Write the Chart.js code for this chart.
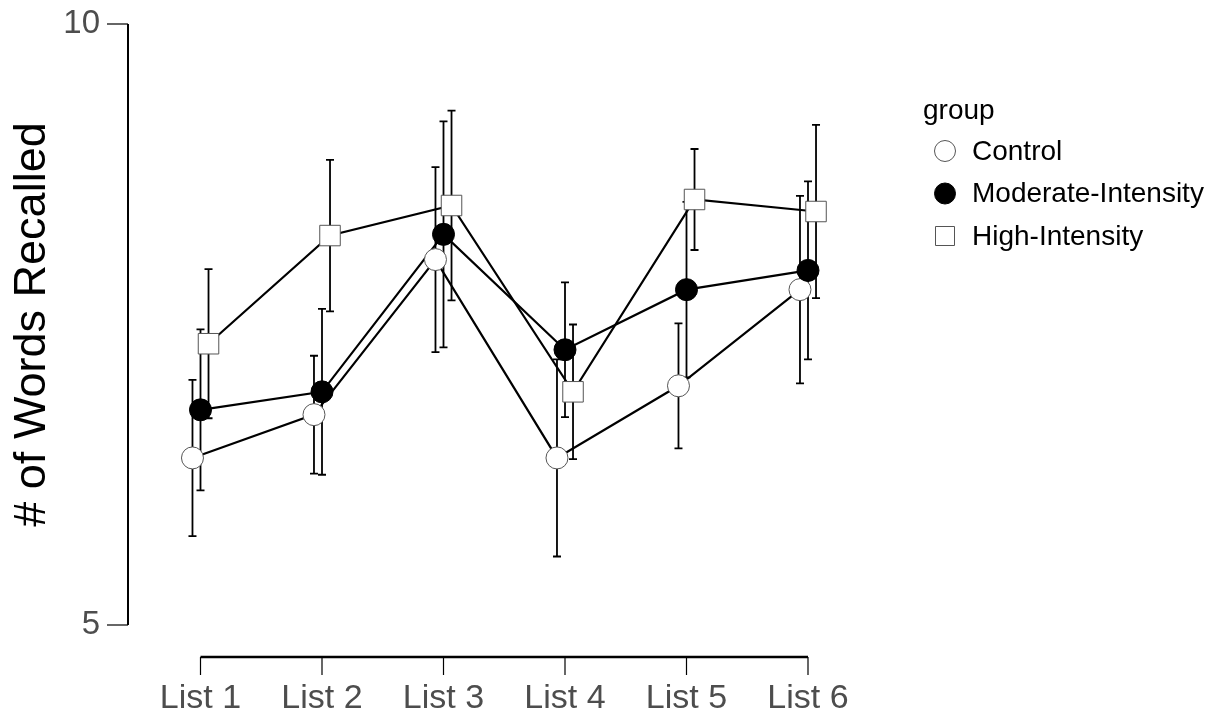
<!DOCTYPE html>
<html>
<head>
<meta charset="utf-8">
<script src="https://cdn.jsdelivr.net/npm/chart.js@4.4.0/dist/chart.umd.min.js"></script>
<style>
  html, body { margin: 0; padding: 0; background: #fff; }
  #wrap { width: 1232px; height: 723px; position: relative; }
</style>
</head>
<body>
<div id="wrap"><canvas id="grafico"></canvas></div>
<script>
const categories = ['List 1', 'List 2', 'List 3', 'List 4', 'List 5', 'List 6']
const groups = ['Control', 'Moderate-Intensity', 'High-Intensity']
const yTicks = [5, 10]

// means and half-width of error bars
const controlMean = [6.39, 6.75, 8.04, 6.39, 6.99, 7.79]
const controlErr = [0.65, 0.49, 0.77, 0.82, 0.52, 0.78]
const moderateMean = [6.79, 6.94, 8.25, 7.29, 7.79, 7.95]
const moderateErr = [0.67, 0.69, 0.94, 0.56, 0.73, 0.74]
const highMean = [7.34, 8.24, 8.49, 6.94, 8.54, 8.44]
const highErr = [0.62, 0.63, 0.79, 0.56, 0.42, 0.72]

document.addEventListener('DOMContentLoaded', function() {
    const family = '"Liberation Sans", Arial, sans-serif'
    Chart.defaults.font.family = family

    const means = [controlMean, moderateMean, highMean]
    const errs = [controlErr, moderateErr, highErr]
    const styles = [
        { pointStyle: 'circle', radius: 11, fill: '#ffffff', border: '#555555' },
        { pointStyle: 'circle', radius: 11, fill: '#000000', border: '#000000' },
        { pointStyle: 'rect', radius: 14.5, fill: '#ffffff', border: '#555555' }
    ]
    const dodge = [-0.066, 0, 0.066]

    const datasets = []
    means.forEach(function(serie, g) {
        const pts = serie.map((v, i) => ({ x: i + 1 + dodge[g], y: v }))
        // lines first (under every marker), like ggplot
        datasets.push({
            label: groups[g] + ' line',
            data: pts,
            borderColor: '#000000',
            borderWidth: 2.2,
            pointRadius: 0,
            fill: false,
            tension: 0,
            order: 10
        })
        datasets.push({
            label: groups[g],
            data: pts,
            showLine: false,
            pointStyle: styles[g].pointStyle,
            pointRadius: styles[g].radius,
            pointBackgroundColor: styles[g].fill,
            pointBorderColor: styles[g].border,
            pointBorderWidth: 1,
            errors: errs[g],
            order: 3 - g
        })
    })

    const errorBars = {
        id: 'errorBars',
        beforeDatasetsDraw(chart) {
            const ctx = chart.ctx
            const y = chart.scales.y
            ctx.save()
            ctx.strokeStyle = '#000000'
            ctx.lineWidth = 1.8
            chart.data.datasets.forEach(function(ds, d) {
                if (!ds.errors) return
                chart.getDatasetMeta(d).data.forEach(function(pt, i) {
                    const v = ds.data[i].y
                    const e = ds.errors[i]
                    const top = y.getPixelForValue(v + e)
                    const bot = y.getPixelForValue(v - e)
                    ctx.beginPath()
                    ctx.moveTo(pt.x, top); ctx.lineTo(pt.x, bot)
                    ctx.moveTo(pt.x - 4, top); ctx.lineTo(pt.x + 4, top)
                    ctx.moveTo(pt.x - 4, bot); ctx.lineTo(pt.x + 4, bot)
                    ctx.stroke()
                })
            })
            ctx.restore()
        }
    }

    // range-frame axes
    const axes = {
        id: 'axes',
        beforeDatasetsDraw(chart) {
            const { ctx, chartArea, scales } = chart
            const x = scales.x, y = scales.y
            ctx.save()
            ctx.strokeStyle = '#000000'
            ctx.lineWidth = 2
            ctx.beginPath()
            ctx.moveTo(chartArea.left, y.getPixelForValue(yTicks[yTicks.length - 1]))
            ctx.lineTo(chartArea.left, y.getPixelForValue(yTicks[0]))
            ctx.stroke()
            ctx.lineWidth = 1.2
            yTicks.forEach(function(t) {
                const py = y.getPixelForValue(t)
                ctx.beginPath(); ctx.moveTo(chartArea.left - 21, py); ctx.lineTo(chartArea.left, py); ctx.stroke()
            })
            const yAxis = chartArea.bottom + 32
            ctx.lineWidth = 2.4
            ctx.beginPath()
            ctx.moveTo(x.getPixelForValue(1), yAxis)
            ctx.lineTo(x.getPixelForValue(categories.length), yAxis)
            ctx.stroke()
            ctx.lineWidth = 1.2
            categories.forEach(function(c, i) {
                const px = x.getPixelForValue(i + 1)
                ctx.beginPath(); ctx.moveTo(px, yAxis); ctx.lineTo(px, yAxis + 18); ctx.stroke()
            })
            ctx.restore()
        }
    }

    const legend = {
        id: 'groupLegend',
        afterDraw(chart) {
            const ctx = chart.ctx
            ctx.save()
            ctx.font = '28px ' + family
            ctx.fillStyle = '#000000'
            ctx.textBaseline = 'alphabetic'
            ctx.fillText('group', 923, 119)
            ctx.textBaseline = 'middle'
            groups.forEach(function(g, k) {
                const cy = 151 + k * 42.5
                const s = styles[k]
                ctx.fillStyle = s.fill
                ctx.strokeStyle = s.border
                ctx.lineWidth = 1
                ctx.beginPath()
                if (s.pointStyle === 'circle') ctx.arc(945, cy, 10.5, 0, Math.PI * 2)
                else ctx.rect(935.5, cy - 9.5, 19, 19)
                ctx.fill()
                ctx.stroke()
                ctx.fillStyle = '#000000'
                ctx.fillText(g, 972, cy + 1)
            })
            ctx.restore()
        }
    }

    new Chart(document.getElementById('grafico').getContext('2d'), {
        type: 'line',
        data: { datasets: datasets },
        plugins: [axes, errorBars, legend],
        options: {
            responsive: true,
            maintainAspectRatio: false,
            animation: false,
            events: [],
            layout: { padding: { top: 24, right: 332, left: 0, bottom: 0 } },
            plugins: { legend: { display: false }, tooltip: { enabled: false } },
            scales: {
                x: {
                    type: 'linear',
                    min: 0.4033,
                    max: 6.7572,
                    grid: { display: false, drawTicks: false },
                    border: { display: false },
                    afterBuildTicks: s => { s.ticks = categories.map((c, i) => ({ value: i + 1 })) },
                    afterFit: s => { s.height = 98; s.paddingLeft = 0; s.paddingRight = 0 },
                    ticks: {
                        autoSkip: false,
                        maxRotation: 0,
                        padding: 53,
                        color: '#4d4d4d',
                        font: { size: 34 },
                        callback: v => categories[Math.round(v) - 1]
                    }
                },
                y: {
                    min: 5,
                    max: 10,
                    grid: { display: false, drawTicks: false },
                    border: { display: false },
                    afterBuildTicks: s => { s.ticks = yTicks.map(v => ({ value: v })) },
                    afterFit: s => { s.width = 128; s.paddingTop = 0; s.paddingBottom = 0 },
                    ticks: { padding: 28, color: '#4d4d4d', font: { size: 33 } },
                    title: {
                        display: true,
                        text: '# of Words Recalled',
                        color: '#000000',
                        font: { size: 45 },
                        padding: { top: 6, bottom: 0 }
                    }
                }
            }
        }
    })
})
</script>
</body>
</html>
